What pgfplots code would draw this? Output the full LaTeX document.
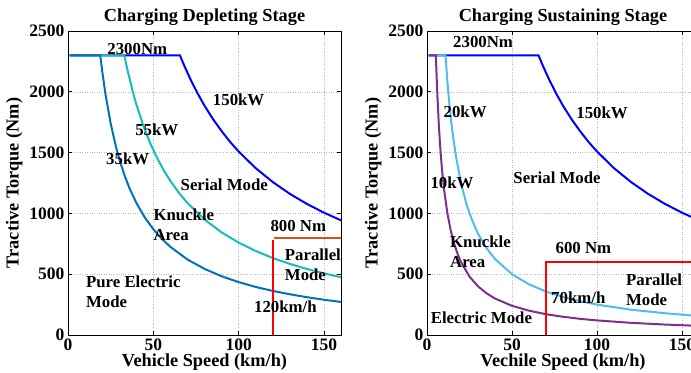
\documentclass[border=0pt]{standalone}
\usepackage{fontspec}
\setmainfont{Liberation Serif}
\usepackage{pgfplots}
\pgfplotsset{compat=1.18}
\definecolor{cA}{RGB}{0,114,189}
\definecolor{cB}{RGB}{20,190,190}
\definecolor{cC}{RGB}{0,0,255}
\definecolor{cOr}{RGB}{217,83,25}
\definecolor{cLB}{RGB}{77,190,238}
\definecolor{cPu}{RGB}{126,47,142}
\newcommand{\tf}{\fontsize{18.3bp}{20bp}\selectfont\bfseries}
\newcommand{\nf}{\fontsize{16.8bp}{20bp}\selectfont\bfseries}
\newcommand{\kf}{\fontsize{17.5bp}{20bp}\selectfont\bfseries}
\pgfplotsset{mystyle/.style={
  scale only axis, height=304bp,
  xmin=0, xmax=160, ymin=0, ymax=2500,
  xtick={0,50,100,150}, ytick={0,500,1000,1500,2000,2500},
  grid=major, grid style={dotted, gray!55, line width=0.5pt},
  tick align=inside, major tick length=4bp,
  /pgf/number format/assume math mode=true,
  /pgf/number format/1000 sep={},
  scaled ticks=false,
  tick label style={font=\kf},
  label style={font=\tf},
  title style={font=\tf, yshift=-4bp},
  xlabel style={yshift=3bp},
  axis line style={black, line width=0.8pt}, tick style={black, line width=0.6pt},
  every axis plot/.append style={line width=2pt, no markers},
  anchor=south west,
  ylabel={Tractive Torque (Nm)},
}}
\begin{document}
\begin{tikzpicture}
\begin{axis}[mystyle, at={(68bp,38bp)}, width=273bp,
  title={Charging Depleting Stage}, xlabel={Vehicle Speed (km/h)}]
\addplot[cC] coordinates {(1,2300)(65.6,2300)(68,2219)(72,2096)(76,1986)(80,1886)(85,1775)(90,1677)(95,1588)(100,1509)(110,1372)(120,1258)(130,1161)(140,1078)(150,1006)(160,943)};
\addplot[cB] coordinates {(1,2300)(33,2300)(35,2171)(38,2000)(40,1900)(44,1727)(48,1583)(52,1462)(56,1357)(60,1267)(65,1169)(70,1086)(80,950)(90,844)(100,760)(110,691)(120,633)(130,585)(140,543)(150,507)(160,475)};
\addplot[cA] coordinates {(1,2300)(18.9,2300)(20,2175)(22,1977)(25,1740)(28,1554)(30,1450)(33,1318)(36,1208)(40,1088)(45,967)(50,870)(55,791)(60,725)(70,621)(80,544)(90,483)(100,435)(110,395)(120,362.5)(130,335)(140,311)(150,290)(160,272)};
\addplot[red] coordinates {(120,0)(120,785)};
\addplot[cOr] coordinates {(120.8,800)(160,800)};
\node[font=\nf] at (axis cs:40.6,2352) {2300Nm};
\node[font=\nf] at (axis cs:100,1932) {150kW};
\node[font=\nf] at (axis cs:52,1686) {55kW};
\node[font=\nf] at (axis cs:35,1447) {35kW};
\node[font=\nf] at (axis cs:91.6,1234) {Serial Mode};
\node[font=\nf, align=left, anchor=west, inner sep=0pt] at (axis cs:50,905) {Knuckle\\Area};
\node[font=\nf] at (axis cs:135,896) {800 Nm};
\node[font=\nf, align=left, anchor=west, inner sep=0pt] at (axis cs:127,576) {Parallel\\Mode};
\node[font=\nf, align=left, anchor=west, inner sep=0pt] at (axis cs:10.5,354) {Pure Electric\\Mode};
\node[font=\nf] at (axis cs:127.4,230) {120km/h};
\end{axis}
\begin{axis}[mystyle, at={(427bp,38bp)}, width=272bp,
  title={Charging Sustaining Stage}, xlabel={Vechile Speed (km/h)}]
\addplot[cC] coordinates {(1,2300)(65.6,2300)(68,2219)(72,2096)(76,1986)(80,1886)(85,1775)(90,1677)(95,1588)(100,1509)(110,1372)(120,1258)(130,1161)(140,1078)(150,1006)(160,943)};
\addplot[cLB] coordinates {(1,2300)(10.9,2300)(12,2083)(13,1923)(14,1786)(15,1667)(17,1471)(20,1250)(23,1087)(26,962)(30,833)(35,714)(40,625)(50,500)(60,417)(70,357)(80,313)(90,278)(100,250)(120,208)(140,179)(160,156)};
\addplot[cPu] coordinates {(1,2300)(5.2,2300)(6,2000)(7,1714)(8,1500)(9,1333)(10,1200)(12,1000)(14,857)(16,750)(18,667)(20,600)(25,480)(30,400)(35,343)(40,300)(50,240)(60,200)(70,171)(80,150)(90,133)(100,120)(120,100)(140,86)(160,75)};
\addplot[red] coordinates {(70,0)(70,600)(160,600)};
\node[font=\nf] at (axis cs:33,2410) {2300Nm};
\node[font=\nf] at (axis cs:22.4,1834) {20kW};
\node[font=\nf] at (axis cs:103,1825) {150kW};
\node[font=\nf] at (axis cs:14.7,1250) {10kW};
\node[font=\nf] at (axis cs:76.5,1290) {Serial Mode};
\node[font=\nf, align=left, anchor=west, inner sep=0pt] at (axis cs:13.5,682) {Knuckle\\Area};
\node[font=\nf] at (axis cs:92,715) {600 Nm};
\node[font=\nf, align=left, anchor=west, inner sep=0pt] at (axis cs:117,370) {Parallel\\Mode};
\node[font=\nf] at (axis cs:89,305) {70km/h};
\node[font=\nf] at (axis cs:32,140) {Electric Mode};
\end{axis}
\pgfresetboundingbox
\useasboundingbox (0,0) rectangle (691bp,373bp);
\end{tikzpicture}
\end{document}
